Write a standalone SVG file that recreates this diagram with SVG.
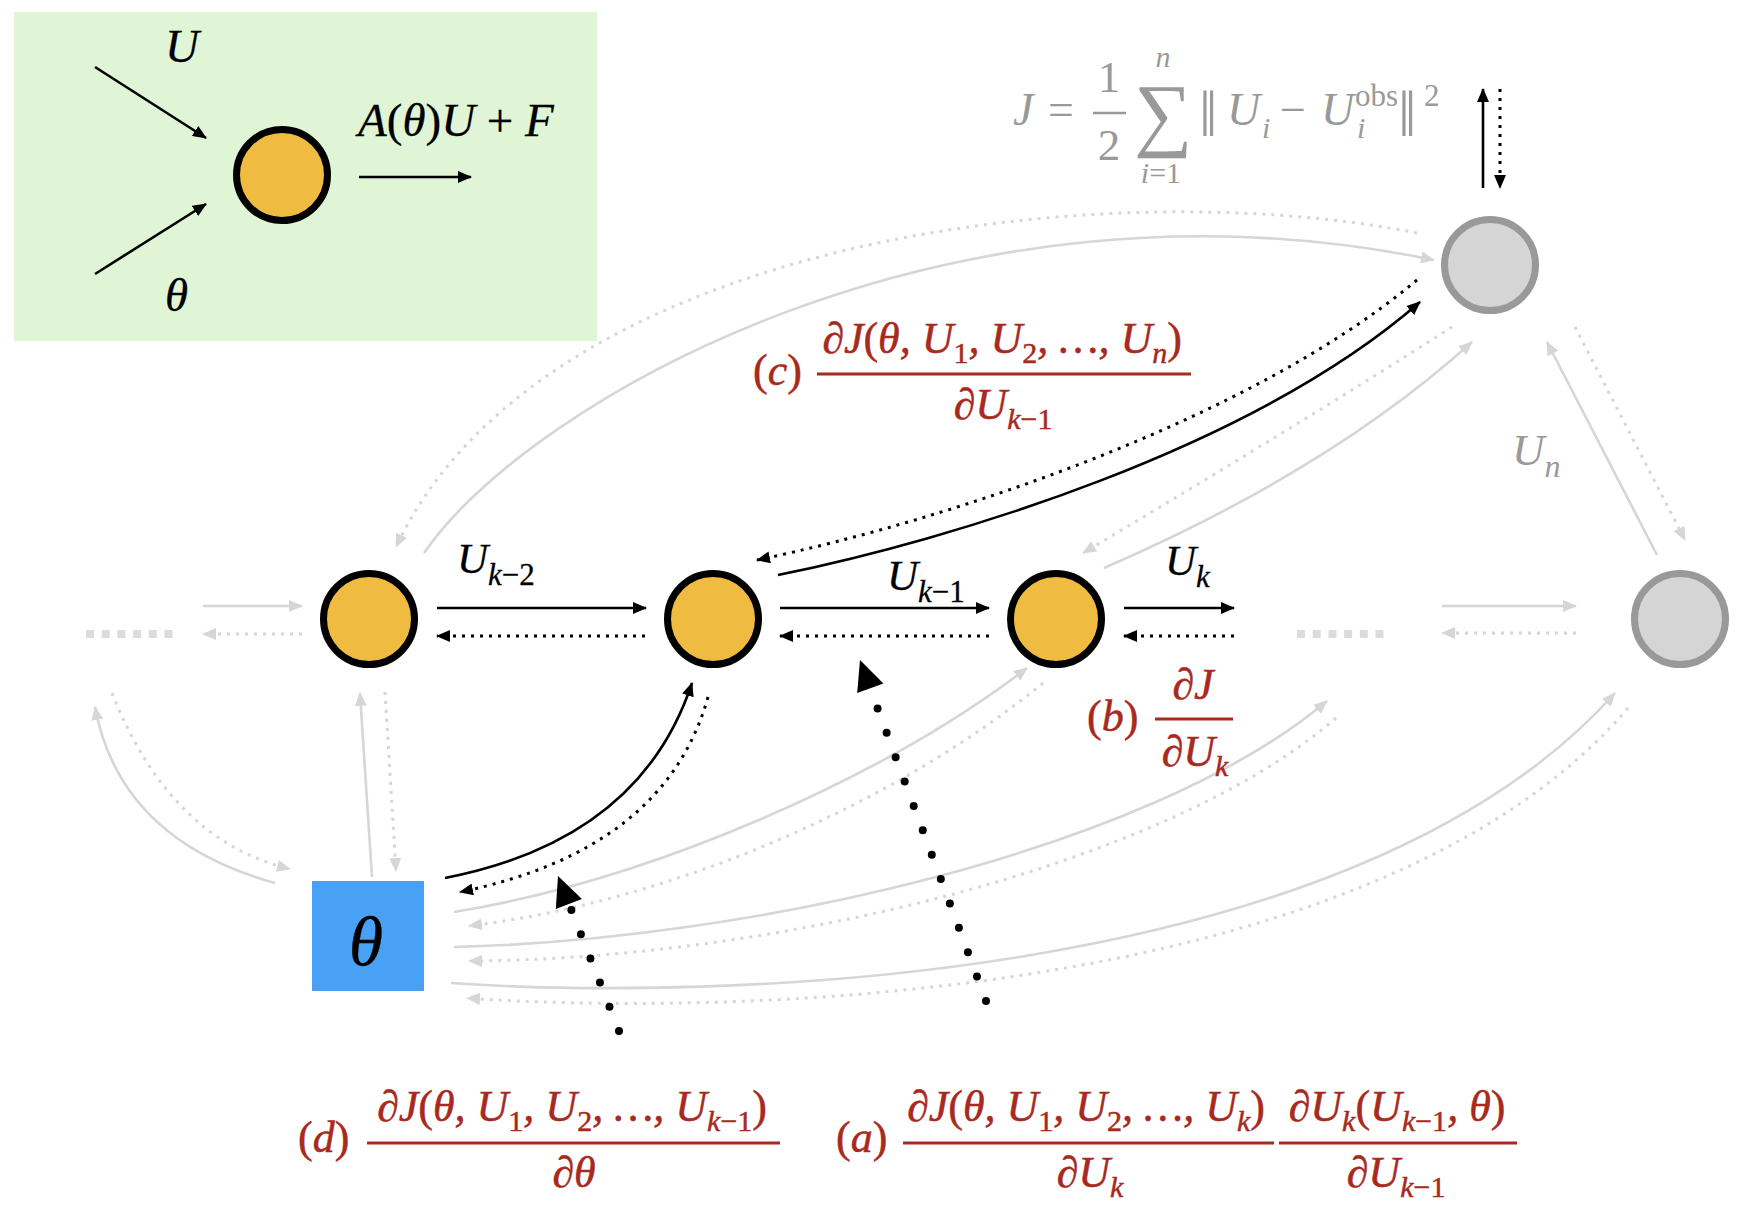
<svg xmlns="http://www.w3.org/2000/svg" width="1746" height="1222" viewBox="0 0 1746 1222">
<defs>
<style>
.m{font-family:"Liberation Serif","DejaVu Serif",serif;font-style:italic}
.n{font-style:normal}
.red{fill:#a8291d;stroke:#a8291d;stroke-width:0.5}
.blk{fill:#000;stroke:#000;stroke-width:0.3}
.gry{fill:#999}
.sb{font-size:30px}
.sk{font-size:31px}
.orange{fill:#efbb41;stroke:#000;stroke-width:7}
.grayc{fill:#d5d5d5;stroke:#999;stroke-width:7}
.bl{fill:none;stroke:#000;stroke-width:2.6}
.bd{fill:none;stroke:#000;stroke-width:3;stroke-dasharray:3 6}
.gl{fill:none;stroke:#d6d6d6;stroke-width:2.6}
.gd{fill:none;stroke:#d6d6d6;stroke-width:3;stroke-dasharray:3 6}
.ell{fill:none;stroke:#dcdcdc;stroke-width:8;stroke-dasharray:8 7.7}
.big{fill:none;stroke:#000;stroke-width:8;stroke-linecap:round;stroke-dasharray:0 26}
.rb{stroke:#a8291d;stroke-width:3}
</style>
<marker id="ab" markerUnits="userSpaceOnUse" viewBox="0 0 14 12" refX="13" refY="6" markerWidth="14" markerHeight="12" orient="auto"><path d="M0,0 L14,6 L0,12 z" fill="#000"/></marker>
<marker id="ag" markerUnits="userSpaceOnUse" viewBox="0 0 14 12" refX="13" refY="6" markerWidth="14" markerHeight="12" orient="auto"><path d="M0,0 L14,6 L0,12 z" fill="#d6d6d6"/></marker>
</defs>
<rect width="1746" height="1222" fill="#fff"/>

<g id="legend">
<rect x="14" y="12" width="583" height="329" fill="#dff5d5"/>
<path class="bl" d="M95,67 L206,138" marker-end="url(#ab)"/>
<path class="bl" d="M95,274 L206,204" marker-end="url(#ab)"/>
<path class="bl" d="M359,177 L471,177" marker-end="url(#ab)"/>
<circle class="orange" cx="282" cy="175" r="45.5"/>
<text class="m blk" x="165" y="62" font-size="47">U</text>
<text class="m blk" x="165" y="311" font-size="47">θ</text>
<text class="m blk" x="358" y="136" font-size="47">A<tspan class="n">(</tspan>θ<tspan class="n">)</tspan>U<tspan class="n"> + </tspan>F</text>
</g>

<g id="connectors">
<path class="ell" d="M86,634 L173,634"/>
<path class="ell" d="M1297,634 L1384,634"/>
<path class="gl" d="M203,606 L302,606" marker-end="url(#ag)"/>
<path class="gd" d="M302,634 L203,634" marker-end="url(#ag)"/>
<path class="bl" d="M437,608 L646,608" marker-end="url(#ab)"/>
<path class="bd" d="M645,636 L437,636" marker-end="url(#ab)"/>
<path class="bl" d="M780,608 L989,608" marker-end="url(#ab)"/>
<path class="bd" d="M989,636 L780,636" marker-end="url(#ab)"/>
<path class="bl" d="M1124,608 L1234,608" marker-end="url(#ab)"/>
<path class="bd" d="M1234,636 L1124,636" marker-end="url(#ab)"/>
<path class="gl" d="M1442,606 L1576,606" marker-end="url(#ag)"/>
<path class="gd" d="M1576,633 L1442,633" marker-end="url(#ag)"/>

<path class="gl" d="M424,553 C530,400 950,160 1434,260" marker-end="url(#ag)"/>
<path class="gd" d="M1417,233 C1100,170 540,240 396,547" marker-end="url(#ag)"/>
<path class="bl" d="M778,575 C950,540 1250,450 1420,302" marker-end="url(#ab)"/>
<path class="bd" d="M1417,280 C1250,420 950,520 757,560" marker-end="url(#ab)"/>
<path class="gl" d="M1104,568 Q1330,470 1472,342" marker-end="url(#ag)"/>
<path class="gd" d="M1452,327 Q1290,430 1083,553" marker-end="url(#ag)"/>
<path class="gl" d="M1657,555 L1547,342" marker-end="url(#ag)"/>
<path class="gd" d="M1575,327 L1685,540" marker-end="url(#ag)"/>
<path class="bl" d="M1483,188 L1483,89" marker-end="url(#ab)"/>
<path class="bd" d="M1500,89 L1500,188" marker-end="url(#ab)"/>

<path class="gl" d="M275,883 Q120,840 95,707" marker-end="url(#ag)"/>
<path class="gd" d="M112,693 Q170,840 290,869" marker-end="url(#ag)"/>
<path class="gl" d="M372,877 L360,693" marker-end="url(#ag)"/>
<path class="gd" d="M385,692 L396,871" marker-end="url(#ag)"/>

<path class="bl" d="M445,878 Q640,840 692,683" marker-end="url(#ab)"/>
<path class="bd" d="M708,697 Q665,850 460,892" marker-end="url(#ab)"/>
<path class="gl" d="M454,912 C650,880 880,780 1027,668" marker-end="url(#ag)"/>
<path class="gd" d="M1043,683 C900,800 680,900 469,926" marker-end="url(#ag)"/>
<path class="gl" d="M454,947 C750,940 1150,850 1327,701" marker-end="url(#ag)"/>
<path class="gd" d="M1336,718 C1160,870 760,960 469,961" marker-end="url(#ag)"/>
<path class="gl" d="M451,983 C700,1000 1350,990 1615,693" marker-end="url(#ag)"/>
<path class="gd" d="M1628,708 C1370,1010 700,1015 467,998" marker-end="url(#ag)"/>

<path class="big" d="M619,1031 L569,904"/>
<polygon points="558,876 581.9,898.9 555.8,909.1" fill="#000"/>
<path class="big" d="M986,1001 L870,688"/>
<polygon points="860,660 883.4,683.4 857.2,693" fill="#000"/>
</g>

<g id="node-u-km2"><circle class="orange" cx="369" cy="619" r="45.5"/></g>
<g id="node-u-km1"><circle class="orange" cx="713" cy="619" r="45.5"/></g>
<g id="node-u-k"><circle class="orange" cx="1056" cy="619" r="45.5"/></g>
<g id="node-u-n"><circle class="grayc" cx="1680" cy="619" r="45.5"/></g>
<g id="node-j"><circle class="grayc" cx="1490" cy="265" r="45.5"/></g>
<g id="node-theta">
<rect x="312" y="881" width="112" height="110" fill="#48a1f5"/>
<text class="m blk" x="366" y="965" font-size="70" text-anchor="middle">θ</text>
</g>

<g id="labels">
<text class="m blk" x="457" y="573" font-size="43">U<tspan class="sk" dy="12">k</tspan><tspan class="sk n">−2</tspan></text>
<text class="m blk" x="887" y="590" font-size="43">U<tspan class="sk" dy="12">k</tspan><tspan class="sk n">−1</tspan></text>
<text class="m blk" x="1165" y="575" font-size="43">U<tspan class="sk" dy="12">k</tspan></text>
<text class="m gry" x="1512" y="465" font-size="45">U<tspan font-size="32" dy="12">n</tspan></text>

<g id="formula-j" class="gry">
<text class="m" x="1013" y="125" font-size="46">J</text>
<text class="m n" x="1048" y="125" font-size="46">=</text>
<text class="m n" x="1109" y="92" font-size="45" text-anchor="middle">1</text>
<line x1="1093" y1="113" x2="1126" y2="113" stroke="#999" stroke-width="2.5"/>
<text class="m n" x="1109" y="160" font-size="45" text-anchor="middle">2</text>
<text class="m n" x="1163" y="141" font-size="82" text-anchor="middle">∑</text>
<text class="m" x="1163" y="67" font-size="30" text-anchor="middle">n</text>
<text class="m" x="1161" y="183" font-size="30" text-anchor="middle">i<tspan class="n">=1</tspan></text>
<text class="m n" x="1199" y="136" font-size="66">‖</text>
<text class="m" x="1227" y="125" font-size="46">U</text>
<text class="m" x="1262" y="138" font-size="30">i</text>
<text class="m n" x="1280" y="125" font-size="46">−</text>
<text class="m" x="1321" y="125" font-size="46">U</text>
<text class="m n" x="1355" y="106" font-size="31">obs</text>
<text class="m" x="1357" y="138" font-size="30">i</text>
<text class="m n" x="1398" y="136" font-size="66">‖</text>
<text class="m n" x="1424" y="106" font-size="31">2</text>
</g>

<g id="label-c" class="red">
<text class="m" x="753" y="385" font-size="44"><tspan class="n">(</tspan>c<tspan class="n">)</tspan></text>
<text class="m" x="1002" y="353" font-size="44" text-anchor="middle">∂J<tspan class="n">(</tspan>θ, U<tspan class="sb n" dy="10">1</tspan><tspan dy="-10">, U</tspan><tspan class="sb n" dy="10">2</tspan><tspan dy="-10">, …, U</tspan><tspan class="sb" dy="10">n</tspan><tspan class="n" dy="-10">)</tspan></text>
<line class="rb" x1="817" y1="374" x2="1191" y2="374"/>
<text class="m" x="1003" y="419" font-size="44" text-anchor="middle">∂U<tspan class="sb" dy="10">k</tspan><tspan class="sb n">−1</tspan></text>
</g>

<g id="label-b" class="red">
<text class="m" x="1087" y="731" font-size="44"><tspan class="n">(</tspan>b<tspan class="n">)</tspan></text>
<text class="m" x="1193" y="699" font-size="44" text-anchor="middle">∂J</text>
<line class="rb" x1="1155" y1="719" x2="1233" y2="719"/>
<text class="m" x="1195" y="766" font-size="44" text-anchor="middle">∂U<tspan class="sb" dy="10">k</tspan></text>
</g>

<g id="label-d" class="red">
<text class="m" x="298" y="1152" font-size="44"><tspan class="n">(</tspan>d<tspan class="n">)</tspan></text>
<text class="m" x="572" y="1121" font-size="44" text-anchor="middle">∂J<tspan class="n">(</tspan>θ, U<tspan class="sb n" dy="10">1</tspan><tspan dy="-10">, U</tspan><tspan class="sb n" dy="10">2</tspan><tspan dy="-10">, …, U</tspan><tspan class="sb" dy="10">k</tspan><tspan class="sb n">−1</tspan><tspan class="n" dy="-10">)</tspan></text>
<line class="rb" x1="367" y1="1143" x2="780" y2="1143"/>
<text class="m" x="574" y="1187" font-size="44" text-anchor="middle">∂θ</text>
</g>

<g id="label-a" class="red">
<text class="m" x="836" y="1152" font-size="44"><tspan class="n">(</tspan>a<tspan class="n">)</tspan></text>
<text class="m" x="1086" y="1121" font-size="44" text-anchor="middle">∂J<tspan class="n">(</tspan>θ, U<tspan class="sb n" dy="10">1</tspan><tspan dy="-10">, U</tspan><tspan class="sb n" dy="10">2</tspan><tspan dy="-10">, …, U</tspan><tspan class="sb" dy="10">k</tspan><tspan class="n" dy="-10">)</tspan></text>
<line class="rb" x1="903" y1="1143" x2="1274" y2="1143"/>
<text class="m" x="1090" y="1187" font-size="44" text-anchor="middle">∂U<tspan class="sb" dy="10">k</tspan></text>
<text class="m" x="1397" y="1121" font-size="44" text-anchor="middle">∂U<tspan class="sb" dy="10">k</tspan><tspan class="n" dy="-10">(</tspan>U<tspan class="sb" dy="10">k</tspan><tspan class="sb n">−1</tspan><tspan dy="-10">, θ</tspan><tspan class="n">)</tspan></text>
<line class="rb" x1="1279" y1="1143" x2="1517" y2="1143"/>
<text class="m" x="1396" y="1187" font-size="44" text-anchor="middle">∂U<tspan class="sb" dy="10">k</tspan><tspan class="sb n">−1</tspan></text>
</g>
</g>
</svg>
